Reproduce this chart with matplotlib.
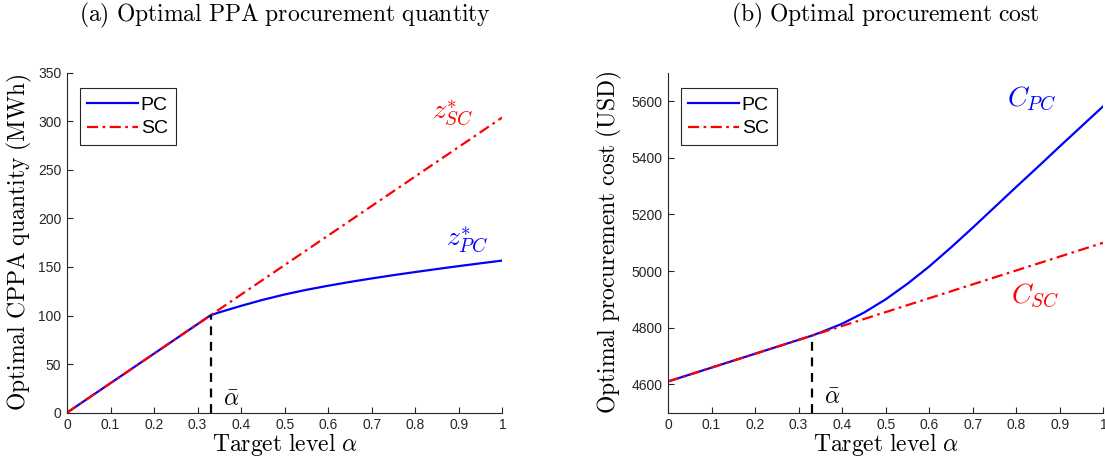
import numpy as np
import matplotlib
matplotlib.use('Agg')
import matplotlib.pyplot as plt
from matplotlib.ticker import FormatStrFormatter

plt.rcParams['mathtext.fontset'] = 'cm'
plt.rcParams['font.family'] = ['Liberation Sans', 'DejaVu Sans']

# target level grid
alpha = [0.0, 0.05, 0.1, 0.15, 0.2, 0.25, 0.3, 0.33, 0.35, 0.4, 0.45, 0.5, 0.55,
         0.6, 0.65, 0.7, 0.75, 0.8, 0.85, 0.9, 0.95, 1.0]
alpha_bar = 0.33

# (a) optimal CPPA quantity (MWh)
z_sc = [0.0, 15.2, 30.4, 45.6, 60.8, 76.0, 91.2, 100.3, 106.4, 121.6, 136.8, 152.0,
        167.2, 182.4, 197.6, 212.8, 228.0, 243.2, 258.4, 273.6, 288.8, 304.0]
z_pc = [0.0, 15.2, 30.4, 45.6, 60.8, 76.0, 91.2, 100.3, 103.3, 110.0, 116.2, 121.7,
        126.5, 130.7, 134.6, 138.2, 141.6, 144.8, 147.9, 150.9, 153.8, 156.6]

# (b) optimal procurement cost (USD)
c_sc = [4610, 4634.5, 4659, 4683.5, 4708, 4732.5, 4757, 4771.7, 4781.5, 4806, 4830.5,
        4855, 4879.5, 4904, 4928.5, 4953, 4977.5, 5002, 5026.5, 5051, 5075.5, 5100]
c_pc = [4610, 4634.5, 4659, 4683.5, 4708, 4732.5, 4757, 4771.7, 4783, 4814, 4853,
        4900, 4955, 5016, 5083, 5153, 5225, 5297, 5368, 5440, 5511, 5582]


def cm(s):
    """Computer Modern roman text via mathtext."""
    return r'$\mathrm{' + s.replace(' ', r'\ ') + '}$'


def style_axes(ax):
    ax.spines['top'].set_visible(False)
    ax.spines['right'].set_visible(False)
    for sp in ('left', 'bottom'):
        ax.spines[sp].set_color('#262626')
        ax.spines[sp].set_linewidth(0.8)
    ax.tick_params(direction='in', length=4, width=0.8, colors='#262626',
                   labelsize=10, labelcolor='#262626', pad=4)
    ax.set_xlim(0, 1)
    ax.set_xticks(np.arange(0, 1.01, 0.1))
    ax.xaxis.set_major_formatter(FormatStrFormatter('%g'))
    ax.set_xlabel(cm('Target level') + r' $\alpha$', fontsize=17, labelpad=-1)


def add_legend(ax):
    leg = ax.legend(loc='upper left', bbox_to_anchor=(0.02, 0.965), fontsize=14,
                    fancybox=False, edgecolor='#262626', framealpha=1,
                    handlelength=2.6, handletextpad=0.15, borderpad=0.4,
                    labelspacing=0.3, borderaxespad=0.2)
    leg.get_frame().set_linewidth(0.8)


fig = plt.figure(figsize=(11.05, 4.59), dpi=100)
ax1 = fig.add_axes([0.0606, 0.1009, 0.394, 0.7407])
ax2 = fig.add_axes([0.6045, 0.1009, 0.394, 0.7407])

dashdot = (0, (5, 2, 1.2, 2))

# (a)
ax1.plot(alpha, z_pc, color='#0000ff', lw=1.6, label='PC')
ax1.plot(alpha, z_sc, color='#ff0000', lw=1.6, ls=dashdot, label='SC')
ax1.plot([alpha_bar, alpha_bar], [0, z_pc[alpha.index(alpha_bar)]], color='k',
         lw=1.6, ls=(0, (4, 3)))
ax1.set_ylim(0, 350)
ax1.set_yticks(np.arange(0, 351, 50))
style_axes(ax1)
ax1.set_ylabel(cm('Optimal CPPA quantity (MWh)'), fontsize=17, labelpad=3)
ax1.text(0.887, 309, r'$z^{*}_{SC}$', color='#ff0000', fontsize=20, ha='center', va='center')
ax1.text(0.92, 178, r'$z^{*}_{PC}$', color='#0000ff', fontsize=20, ha='center', va='center')
ax1.text(0.378, 13, r'$\bar{\alpha}$', color='k', fontsize=17, ha='center', va='center')
add_legend(ax1)

# (b)
ax2.plot(alpha, c_pc, color='#0000ff', lw=1.6, label='PC')
ax2.plot(alpha, c_sc, color='#ff0000', lw=1.6, ls=dashdot, label='SC')
ax2.plot([alpha_bar, alpha_bar], [4500, c_pc[alpha.index(alpha_bar)]], color='k',
         lw=1.6, ls=(0, (4, 3)))
ax2.set_ylim(4500, 5700)
ax2.set_yticks(np.arange(4600, 5601, 200))
style_axes(ax2)
ax2.set_ylabel(cm('Optimal procurement cost (USD)'), fontsize=17, labelpad=5)
ax2.text(0.836, 5606, r'$C_{PC}$', color='#0000ff', fontsize=20, ha='center', va='center')
ax2.text(0.843, 4911, r'$C_{SC}$', color='#ff0000', fontsize=20, ha='center', va='center')
ax2.text(0.376, 4553, r'$\bar{\alpha}$', color='k', fontsize=17, ha='center', va='center')
add_legend(ax2)

# subplot titles
fig.text(0.2577, 0.966, cm('(a) Optimal PPA procurement quantity'), fontsize=17,
         ha='center', va='center')
fig.text(0.8015, 0.966, cm('(b) Optimal procurement cost'), fontsize=17,
         ha='center', va='center')

fig.savefig('out.png', dpi=100)
